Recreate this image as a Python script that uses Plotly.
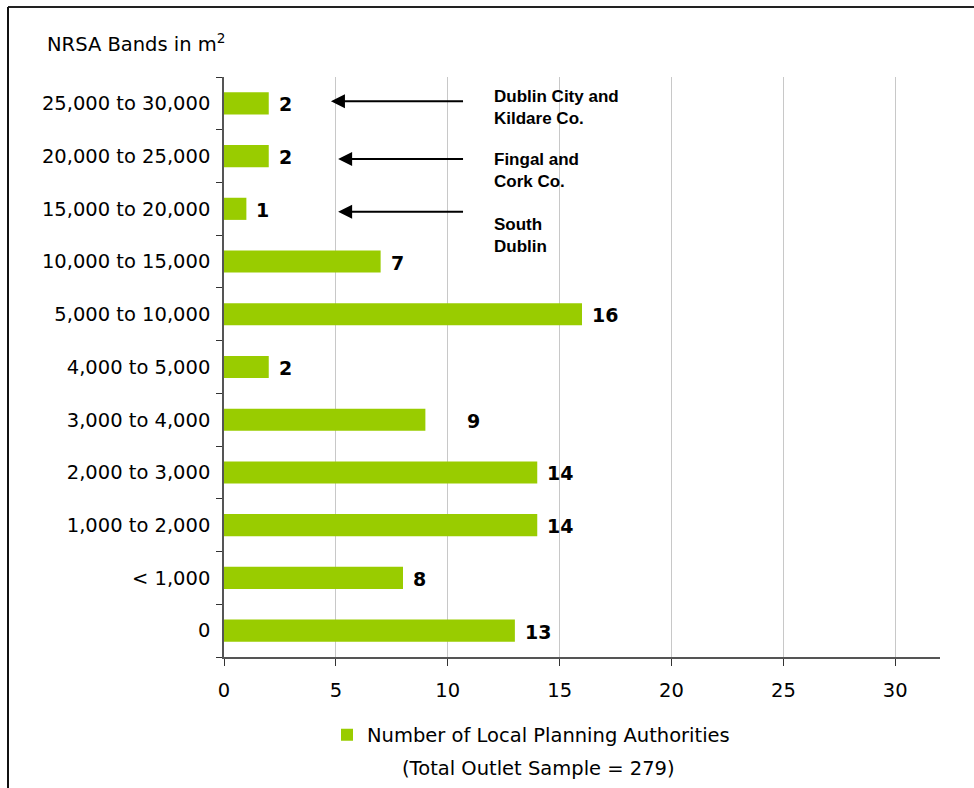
import plotly.graph_objects as go

# NRSA floorspace bands (bottom to top) and the number of local planning authorities in each
bands = ["0", "< 1,000", "1,000 to 2,000", "2,000 to 3,000", "3,000 to 4,000",
         "4,000 to 5,000", "5,000 to 10,000", "10,000 to 15,000",
         "15,000 to 20,000", "20,000 to 25,000", "25,000 to 30,000"]
authorities = [13, 8, 14, 14, 9, 2, 16, 7, 1, 2, 2]

x_ticks = [0, 5, 10, 15, 20, 25, 30]

# Callouts naming the authorities in the three largest bands
callout_bands = ["25,000 to 30,000", "20,000 to 25,000", "15,000 to 20,000"]
callout_text = ["Dublin City and<br>Kildare Co.", "Fingal and<br>Cork Co.", "South<br>Dublin"]

GREEN = "#99CC00"
FONT = "DejaVu Sans"
FS = 19.5

W, H = 974, 788
ML, MR, MT, MB = 224, 34, 77, 131

fig = go.Figure()
fig.add_trace(go.Bar(
    y=bands, x=authorities, orientation="h",
    marker=dict(color=GREEN, line=dict(width=0)),
    width=0.42,
    name="Number of Local Planning Authorities",
    showlegend=True,
))

# value labels at the end of each bar
for band, v in zip(bands, authorities):
    shift = 40 if v == 9 else 8
    fig.add_annotation(
        x=v, y=band, text=f"<b>{v}</b>", showarrow=False,
        xanchor="left", xshift=shift, yshift=-1,
        font=dict(family=FONT, size=19, color="black"),
    )

# arrows and callout labels
arrow_heads = [4.78, 5.1, 5.1]
arrow_dy = [2, -3, -3]
text_dy = [-4, -14, -27]
for band, txt, head, dy, tdy in zip(callout_bands, callout_text, arrow_heads, arrow_dy, text_dy):
    fig.add_annotation(
        x=head, y=band, ax=10.75, ay=band, xref="x", yref="y", axref="x", ayref="y",
        text="", showarrow=True, arrowhead=2, arrowsize=1.4, arrowwidth=2,
        arrowcolor="black", yshift=dy,
    )
    fig.add_annotation(
        x=11.97, y=band, text=f"<b>{txt}</b>", showarrow=False,
        xanchor="left", align="left", yshift=tdy,
        font=dict(family="Liberation Sans", size=17, color="black"),
    )

pw = W - ML - MR
ph = H - MT - MB

# axis title above the category labels
fig.add_annotation(
    x=(45 - ML) / pw, y=(H - MB - 43) / ph, xref="paper", yref="paper",
    text="NRSA Bands in m<sup>2</sup>", showarrow=False,
    xanchor="left", yanchor="middle",
    font=dict(family=FONT, size=FS, color="black"),
)

# sample size note under the legend
fig.add_annotation(
    x=(538 - ML) / pw, y=(H - MB - 768) / ph, xref="paper", yref="paper",
    text="(Total Outlet Sample = 279)", showarrow=False,
    xanchor="center", yanchor="middle",
    font=dict(family=FONT, size=FS, color="black"),
)

# outer frame (top and left edges)
fig.add_shape(type="line", xref="paper", yref="paper",
              x0=(8 - ML) / pw, x1=(W + 5 - ML) / pw,
              y0=(H - MB - 7) / ph, y1=(H - MB - 7) / ph,
              line=dict(color="#222222", width=2))
fig.add_shape(type="line", xref="paper", yref="paper",
              x0=(8 - ML) / pw, x1=(8 - ML) / pw,
              y0=(H - MB - 7) / ph, y1=(H - MB - H - 5) / ph,
              line=dict(color="#111111", width=2))

fig.update_layout(
    width=W, height=H,
    margin=dict(l=ML, r=MR, t=MT, b=MB),
    paper_bgcolor="white", plot_bgcolor="white",
    font=dict(family=FONT, size=FS, color="black"),
    bargap=0.58,
    xaxis=dict(
        range=[0, 32], tickvals=x_ticks, ticks="outside", ticklen=7,
        tickcolor="#333333", showgrid=True, gridcolor="#c8c8c8", gridwidth=1,
        showline=True, linecolor="#555555", linewidth=1.5,
        zeroline=False, tickfont=dict(family=FONT, size=FS),
        ticklabelstandoff=8,
    ),
    yaxis=dict(
        categoryorder="array", categoryarray=bands, range=[-0.5, 10.5],
        ticks="outside", tickson="boundaries", ticklen=6, tickcolor="#333333",
        showline=True, linecolor="#555555", linewidth=1.5,
        showgrid=False, tickfont=dict(family=FONT, size=FS),
        ticklabelstandoff=8,
    ),
    legend=dict(
        orientation="h", x=(327 - ML) / pw, y=(H - MB - 735) / ph,
        xanchor="left", yanchor="middle",
        font=dict(family=FONT, size=FS), itemwidth=30,
    ),
)

fig.write_html("out.html")
